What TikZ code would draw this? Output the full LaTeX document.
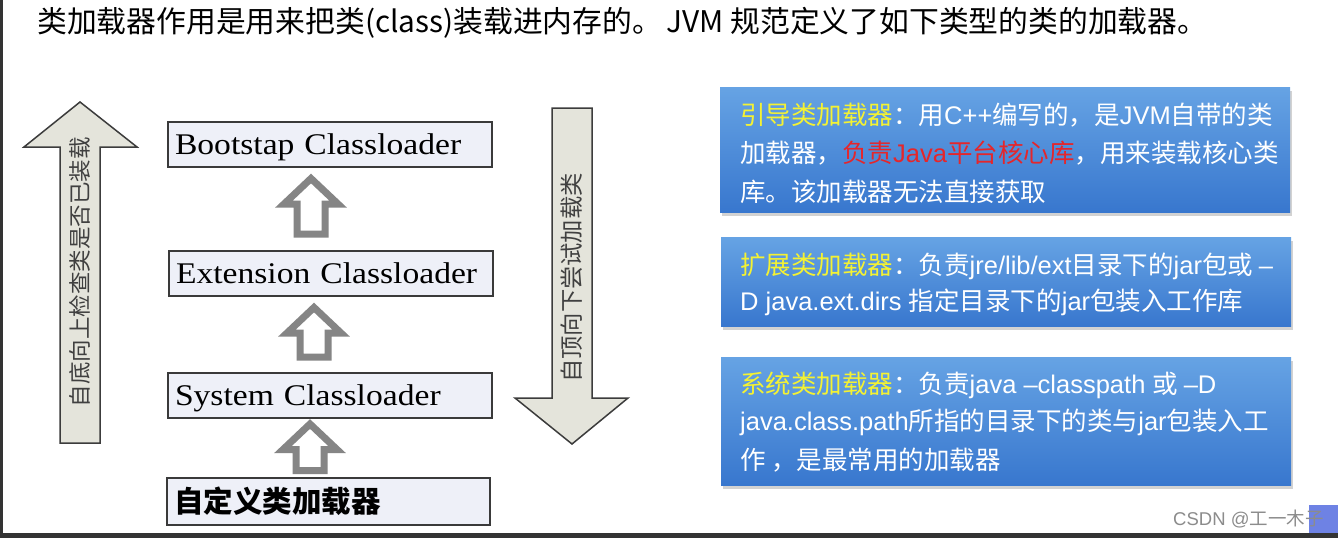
\documentclass[tikz,border=0pt]{standalone}
\usepackage{fontspec}
\setmainfont{Noto Sans CJK SC}
\newfontfamily\arial{Liberation Sans}
\newfontfamily\tnr[FakeStretch=1.12]{Liberation Serif}
\usetikzlibrary{shadows,calc}
\definecolor{boxfill}{HTML}{EEF0F8}
\definecolor{boxline}{HTML}{3A3A3A}
\definecolor{arrowfill}{HTML}{E4E4DB}
\definecolor{arrowline}{HTML}{3C3C3C}
\definecolor{hollowgray}{HTML}{858585}
\definecolor{bluetop}{HTML}{66A3E4}
\definecolor{bluebot}{HTML}{3877CE}
\definecolor{ylw}{HTML}{F4F232}
\definecolor{rd}{HTML}{E5262B}
\definecolor{frame}{HTML}{333333}
\definecolor{csdnblue}{HTML}{6E82E4}
\definecolor{vtext}{HTML}{404040}
\tikzset{
  clbox/.style={draw=boxline, line width=2pt, fill=boxfill, text width=310pt,
    inner xsep=7pt, inner ysep=0pt, minimum height=45pt, align=left,
    text height=27pt, text depth=7pt, font=\tnr\fontsize{30pt}{30pt}\selectfont},
  custbox/.style={draw=boxline, line width=2pt, fill=boxfill, text width=309pt,
    inner xsep=7pt, inner ysep=0pt, minimum height=47pt, align=left,
    font=\bfseries\fontsize{29.5pt}{29.5pt}\selectfont},
  bluebox/.style={draw=none, top color=bluetop, bottom color=bluebot,
    drop shadow={shadow xshift=2pt, shadow yshift=-4pt, opacity=0.35},
    minimum width=570pt, inner sep=0pt},
  bline/.style={anchor=base west, inner sep=0pt, text=white,
    font=\fontsize{25.5pt}{25.5pt}\selectfont},
  bigarrow/.style={fill=arrowfill, draw=arrowline, line width=1.5pt, line join=miter},
  vlabel/.style={rotate=90, text=vtext, inner sep=0pt},
  hollow/.style={draw=hollowgray, line width=7pt, fill=white, line join=miter},
  pics/hollowup/.style={code={
    \draw[hollow] (0,5) -- (27,30.5) -- (14,30.5) -- (14,#1-3.5) -- (-14,#1-3.5)
      -- (-14,30.5) -- (-27,30.5) -- cycle;}},
}
\begin{document}
\begin{tikzpicture}[x=1pt,y=-1pt]
\useasboundingbox (0,0) rectangle (1338,538);
\fill[white] (0,0) rectangle (1338,538);
% window frame
\fill[frame] (0,0) rectangle (3,538);
\fill[frame] (0,533) rectangle (1338,538);

% title
\node[anchor=base west, inner sep=0pt, font=\fontsize{29.8pt}{29.8pt}\selectfont] (title) at (37,32)
  {类加载器作用是用来把类(class)装载进内存的。\hspace{0.15em}JVM 规范定义了如下类型的类的加载器。};

% left big up arrow
\draw[bigarrow] (80,102) -- (137,147) -- (100,147) -- (100,443) -- (60,443) -- (60,147) -- (24,147) -- cycle;
\node[vlabel, font=\fontsize{22.5pt}{22.5pt}\selectfont] (uplabel) at (80,272) {自底向上检查类是否已装载};

% right big down arrow
\draw[bigarrow] (552,108) -- (592,108) -- (592,398) -- (628,398) -- (572,444) -- (515,398) -- (552,398) -- cycle;
\node[vlabel, font=\fontsize{23.3pt}{23.3pt}\selectfont] (downlabel) at (572,278) {自顶向下尝试加载类};

% class loader boxes
\node[clbox] (boot) at (330,144.5) {Bootstap Classloader};
\node[clbox] (ext) at (331,273) {Extension Classloader};
\node[clbox] (sys) at (330,395.5) {System Classloader};
\node[custbox] (cust) at (328.5,501.5) {自定义类加载器};

% hollow arrows between boxes
\pic at ($(boot.south)+(-19,5.5)$) {hollowup=64};
\pic at ($(ext.south)+(-17,6)$) {hollowup=58};
\pic at ($(sys.south)+(-20,0)$) {hollowup=55};

% blue description boxes
\node[bluebox, minimum height=125pt] (bb1) at (1005,149.5) {};
\node[bline] (b1l1) at (740,124) {{\color{ylw}引导类加载器}：用{\arial C++}编写的，是{\arial JVM}自带的类};
\node[bline] (b1l2) at (740,162) {加载器，{\color{rd}负责{\arial Java}平台核心库}，用来装载核心类};
\node[bline] (b1l3) at (740,201) {库。该加载器无法直接获取};

\node[bluebox, minimum height=89pt] (bb2) at (1006,281.5) {};
\node[bline] (b2l1) at (740,274.5) {{\color{ylw}扩展类加载器}：负责{\arial jre/lib/ext}目录下的{\arial jar}包或 {\arial –}};
\node[bline] (b2l2) at (740,310.5) {{\arial D java.ext.dirs }指定目录下的{\arial jar}包装入工作库};

\node[bluebox, minimum height=128pt] (bb3) at (1006,421) {};
\node[bline] (b3l1) at (740,393.5) {{\color{ylw}系统类加载器}：负责{\arial java –classpath }或 {\arial –D}};
\node[bline] (b3l2) at (740,430.5) {{\arial java.class.path}所指的目录下的类与{\arial jar}包装入工};
\node[bline] (b3l3) at (740,469.5) {作 ，是最常用的加载器};

% watermark
\fill[csdnblue] (1309,505) rectangle (1338,533);
\node[anchor=west, inner sep=0pt, text=black!45, font=\fontsize{18.5pt}{18.5pt}\selectfont] (csdn) at (1173,519) {{\arial CSDN @}工一木子};
\end{tikzpicture}
\end{document}
